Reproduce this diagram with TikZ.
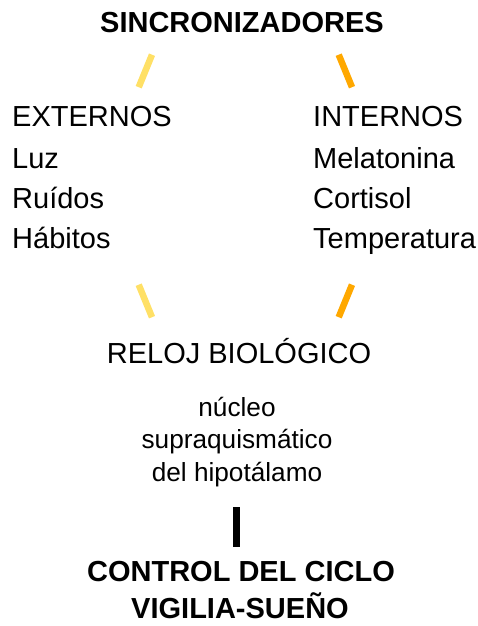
\documentclass[tikz,border=0pt]{standalone}
\usepackage{fontspec}
\setmainfont{Liberation Sans}
\definecolor{barYellow}{HTML}{FFE066}
\definecolor{barOrange}{HTML}{FFA800}
\begin{document}
\begin{tikzpicture}[x=1pt,y=1pt,
  big/.style={font=\fontsize{29}{34}\selectfont, inner sep=0pt},
  bigb/.style={font=\fontsize{29}{37}\selectfont\bfseries, inner sep=0pt, align=center},
  mid/.style={font=\fontsize{26.2}{31}\selectfont, inner sep=0pt, align=center},
  bar/.style={line width=6.5pt},
]
\useasboundingbox (0,0) rectangle (477,-626);
% title
\node[bigb, anchor=base] (sync) at (242,-33) {SINCRONIZADORES};
% left column
\node[big, anchor=base west] (ext) at (12,-126) {EXTERNOS};
\node[big, anchor=base west] (luz) at (12,-168) {Luz};
\node[big, anchor=base west] (rui) at (12,-208) {Ruídos};
\node[big, anchor=base west] (hab) at (12,-248) {Hábitos};
% right column
\node[big, anchor=base west] (int) at (313,-126) {INTERNOS};
\node[big, anchor=base west] (mel) at (313,-168) {Melatonina};
\node[big, anchor=base west] (cor) at (313,-208) {Cortisol};
\node[big, anchor=base west] (tem) at (313,-248) {Temperatura};
% clock
\node[big, anchor=base] (reloj) at (239,-363) {RELOJ BIOLÓGICO};
\node[mid, anchor=base] (nuc) at (237,-416) {núcleo};
\node[mid, anchor=base] (sup) at (237,-448) {supraquismático};
\node[mid, anchor=base] (hip) at (237,-481) {del hipotálamo};
% control
\node[bigb, anchor=base] (ctl) at (241,-581) {CONTROL DEL CICLO};
\node[bigb, anchor=base] (vig) at (240,-618) {VIGILIA-SUEÑO};
% bar end points
\coordinate (y1a) at (152,-54.7);  \coordinate (y1b) at (138.7,-87.2);
\coordinate (o1a) at (338.7,-54.7); \coordinate (o1b) at (352,-87.2);
\coordinate (y2a) at (138.7,-284.7); \coordinate (y2b) at (152,-317.2);
\coordinate (o2a) at (352,-284.7);  \coordinate (o2b) at (338.7,-317.2);
\draw[bar, barYellow] (y1a) -- (y1b);
\draw[bar, barOrange] (o1a) -- (o1b);
\draw[bar, barYellow] (y2a) -- (y2b);
\draw[bar, barOrange] (o2a) -- (o2b);
% black bar
\coordinate (k1) at (233,-507); \coordinate (k2) at (240,-547);
\fill[black] (k1) rectangle (k2);
\end{tikzpicture}
\end{document}
